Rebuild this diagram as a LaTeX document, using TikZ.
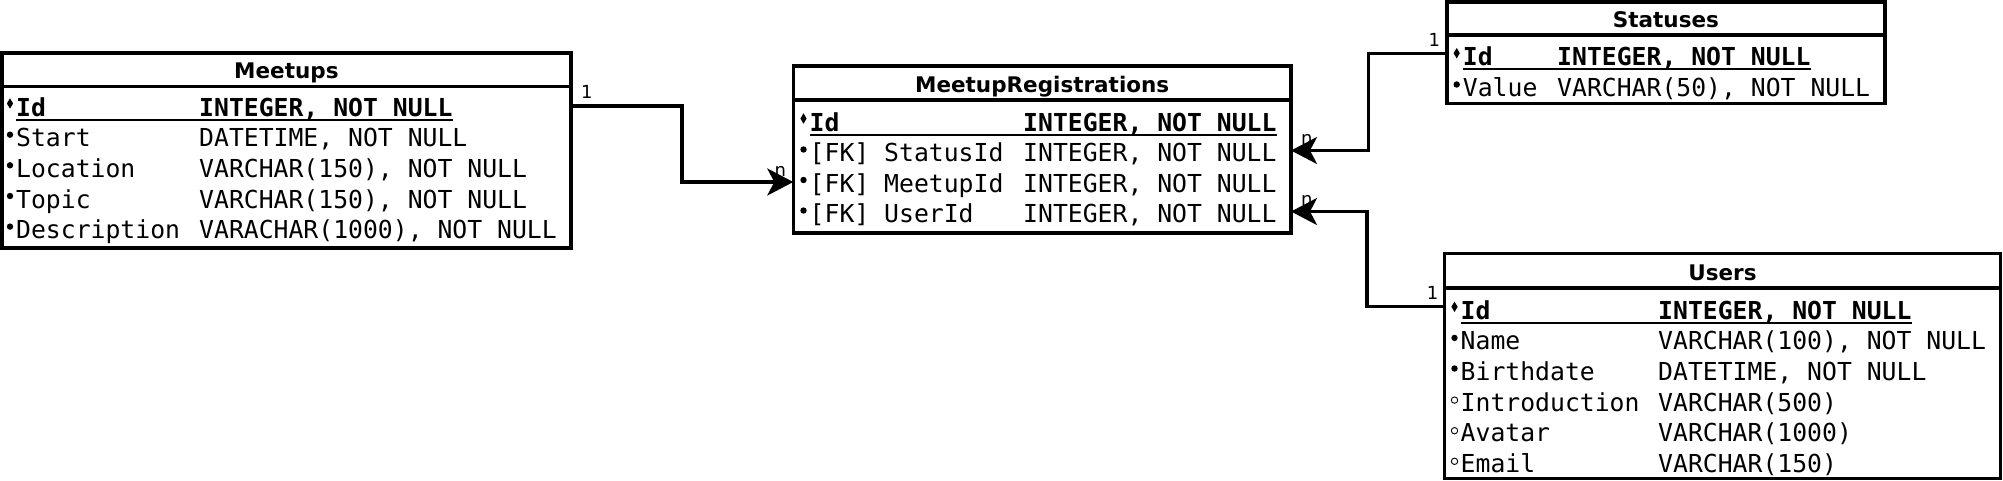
\documentclass[tikz,border=0pt]{standalone}
\usepackage{fontspec}
\usetikzlibrary{arrows.meta}
\newfontfamily\monofam{DejaVu Sans Mono}
\newfontfamily\hdrfam{DejaVu Sans}
\newcommand\fldfont{\monofam\fontsize{24.75pt}{29pt}\selectfont}
\newcommand\pkfont{\monofam\bfseries\fontsize{24.75pt}{29pt}\selectfont}
\newcommand\hdrfont{\hdrfam\bfseries\fontsize{21.5pt}{25pt}\selectfont}
\newcommand\cardfont{\hdrfam\fontsize{18pt}{21pt}\selectfont}
\newcommand\rowdot[1]{\fill ([shift={(-6pt,12pt)}]#1.base west) circle (3.2pt);}
\newcommand\rowring[1]{\draw[line width=0.9pt] ([shift={(-6pt,11pt)}]#1.base west) circle (3.2pt);}
\newcommand\rowdiamond[1]{\fill ([shift={(-6pt,12.5pt)}]#1.base west) ++(0pt,5.2pt) -- ++(3.1pt,-5.2pt) -- ++(-3.1pt,-5.2pt) -- ++(-3.1pt,5.2pt) -- cycle;}
\newcommand\rowuline[2]{\draw[line width=2pt] ([yshift=-3.5pt]#1.base west) -- ([yshift=-3.5pt]#2.base east);}
\tikzset{
  tbl/.style={draw, line width=3.6pt, inner sep=0pt, outer sep=0pt, anchor=north west, fill=white},
  sepline/.style={line width=3.6pt},
  hdr/.style={font=\hdrfont, anchor=base, inner sep=0pt},
  fld/.style={font=\fldfont, anchor=base west, inner sep=0pt},
  pk/.style={font=\pkfont, anchor=base west, inner sep=0pt},
  card/.style={font=\cardfont, inner sep=0pt},
  conn/.style={line width=3.3pt, -{Stealth[length=26pt,width=27pt,inset=7pt]}}
}
\begin{document}
\begin{tikzpicture}[x=1pt,y=-1pt]
\useasboundingbox (0,0) rectangle (2003,480);

% ---------------- Meetups
\node[tbl, minimum width=569.2pt, minimum height=195.3pt] (meetups) at (1.8,52.7) {};
\draw[sepline] (1.8,86.5) -- (571,86.5);
\node[hdr] (meetupsH) at (286.4,78.5) {Meetups};
\node[pk]  (mtIdN) at (16,116) {Id};
\node[pk]  (mtIdT) at (199,116) {INTEGER, NOT NULL};
\node[fld] (mtStN) at (16,146.7) {Start};
\node[fld] (mtStT) at (199,146.7) {DATETIME, NOT NULL};
\node[fld] (mtLoN) at (16,177.3) {Location};
\node[fld] (mtLoT) at (199,177.3) {VARCHAR(150), NOT NULL};
\node[fld] (mtToN) at (16,208) {Topic};
\node[fld] (mtToT) at (199,208) {VARCHAR(150), NOT NULL};
\node[fld] (mtDeN) at (16,238.6) {Description};
\node[fld] (mtDeT) at (199,238.6) {VARACHAR(1000), NOT NULL};
\rowdiamond{mtIdN}
\rowuline{mtIdN}{mtIdT}
\rowdot{mtStN}\rowdot{mtLoN}\rowdot{mtToN}\rowdot{mtDeN}

% ---------------- MeetupRegistrations
\node[tbl, minimum width=497.7pt, minimum height=167pt] (mr) at (793.3,65.7) {};
\draw[sepline] (793.3,100) -- (1291,100);
\node[hdr] (mrH) at (1042.2,92) {MeetupRegistrations};
\node[pk]  (mrIdN) at (809.5,131) {Id};
\node[pk]  (mrIdT) at (1023,131) {INTEGER, NOT NULL};
\node[fld] (mrStN) at (809.5,161.5) {[FK] StatusId};
\node[fld] (mrStT) at (1023,161.5) {INTEGER, NOT NULL};
\node[fld] (mrMeN) at (809.5,192) {[FK] MeetupId};
\node[fld] (mrMeT) at (1023,192) {INTEGER, NOT NULL};
\node[fld] (mrUsN) at (809.5,222.5) {[FK] UserId};
\node[fld] (mrUsT) at (1023,222.5) {INTEGER, NOT NULL};
\rowdiamond{mrIdN}
\rowuline{mrIdN}{mrIdT}
\rowdot{mrStN}\rowdot{mrMeN}\rowdot{mrUsN}

% ---------------- Statuses
\node[tbl, minimum width=438.3pt, minimum height=101.7pt] (statuses) at (1446.7,1.8) {};
\draw[sepline] (1446.7,34.7) -- (1885,34.7);
\node[hdr] (stH) at (1665.9,27) {Statuses};
\node[pk]  (stIdN) at (1462.7,65.7) {Id};
\node[pk]  (stIdT) at (1557,65.7) {INTEGER, NOT NULL};
\node[fld] (stVaN) at (1462.7,96.5) {Value};
\node[fld] (stVaT) at (1557,96.5) {VARCHAR(50), NOT NULL};
\rowdiamond{stIdN}
\rowuline{stIdN}{stIdT}
\rowdot{stVaN}

% ---------------- Users
\node[tbl, minimum width=556pt, minimum height=225.2pt] (users) at (1444.5,253.3) {};
\draw[sepline] (1444.5,287.7) -- (2000.5,287.7);
\node[hdr] (usH) at (1722.5,280) {Users};
\node[pk]  (usIdN) at (1460.5,319.3) {Id};
\node[pk]  (usIdT) at (1658,319.3) {INTEGER, NOT NULL};
\node[fld] (usNaN) at (1460.5,349.9) {Name};
\node[fld] (usNaT) at (1658,349.9) {VARCHAR(100), NOT NULL};
\node[fld] (usBiN) at (1460.5,380.5) {Birthdate};
\node[fld] (usBiT) at (1658,380.5) {DATETIME, NOT NULL};
\node[fld] (usInN) at (1460.5,411.1) {Introduction};
\node[fld] (usInT) at (1658,411.1) {VARCHAR(500)};
\node[fld] (usAvN) at (1460.5,441.7) {Avatar};
\node[fld] (usAvT) at (1658,441.7) {VARCHAR(1000)};
\node[fld] (usEmN) at (1460.5,472.3) {Email};
\node[fld] (usEmT) at (1658,472.3) {VARCHAR(150)};
\rowdiamond{usIdN}
\rowuline{usIdN}{usIdT}
\rowdot{usNaN}\rowdot{usBiN}
\rowring{usInN}\rowring{usAvN}\rowring{usEmN}

% ---------------- connectors
\coordinate (k1) at ([yshift=10pt]mtIdN.base);
\coordinate (k1e) at ([yshift=10pt]mrMeN.base);
\coordinate (k2) at ([yshift=12pt]stIdN.base);
\coordinate (k2e) at ([yshift=11pt]mrStN.base);
\coordinate (k3) at ([yshift=12.5pt]usIdN.base);
\coordinate (k3e) at ([yshift=11pt]mrUsN.base);
\coordinate (k1s) at (meetups.east |- k1);
\coordinate (k1t) at (mr.west |- k1e);
\coordinate (k2s) at (statuses.west |- k2);
\coordinate (k2t) at (mr.east |- k2e);
\coordinate (k3s) at (users.west |- k3);
\coordinate (k3t) at (mr.east |- k3e);

\draw[conn] (k1s) -- ++(111,0) |- (k1t);
\draw[conn] (k2s) -- ++(-78.5,0) |- (k2t);
\draw[conn] (k3s) -- ++(-77.5,0) |- (k3t);

\node[card, anchor=base west] (c1a) at ([shift={(10pt,8pt)}]k1s) {1};
\node[card, anchor=base east] (c1b) at ([shift={(-7pt,6pt)}]k1t) {n};
\node[card, anchor=base east] (c2a) at ([shift={(-6.5pt,7pt)}]k2s) {1};
\node[card, anchor=base west] (c2b) at ([shift={(10pt,6.5pt)}]k2t) {n};
\node[card, anchor=base east] (c3a) at ([shift={(-6pt,7pt)}]k3s) {1};
\node[card, anchor=base west] (c3b) at ([shift={(10pt,6.5pt)}]k3t) {n};
\end{tikzpicture}
\end{document}
